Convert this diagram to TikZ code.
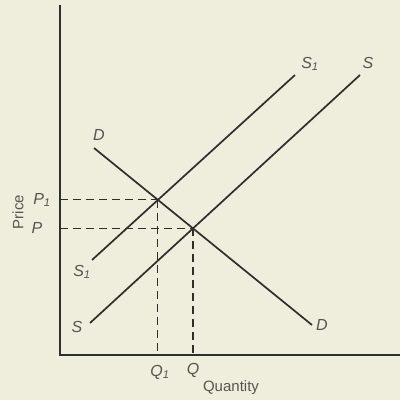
\documentclass[tikz,border=0pt]{standalone}
\usepackage{fontspec}
\setmainfont{Liberation Sans}
\usepackage{xcolor}
\usepackage{tikz}
\usetikzlibrary{calc}
\definecolor{paperc}{HTML}{EFEEDD}
\definecolor{inkc}{HTML}{2E2E2A}
\definecolor{txtc}{HTML}{55554F}
\tikzset{
  ax/.style={inkc,line width=1.1pt},
  crv/.style={inkc,line width=1.7pt},
  dsh/.style={inkc,line width=1.1pt,dash pattern=on 8pt off 5pt},
  lbl/.style={text=txtc,font=\fontsize{16}{16}\selectfont\itshape,inner sep=1pt},
  ttl/.style={text=txtc,font=\fontsize{15}{15}\selectfont,inner sep=1pt}
}
\newcommand{\sub}[1]{{\itshape #1}\textsubscript{1}}
\begin{document}
\begin{tikzpicture}[x=1pt,y=1pt]
\fill[paperc] (0,0) rectangle (400,400);
\useasboundingbox (0,0) rectangle (400,400);
% axes
\coordinate (O) at (60,45);
\coordinate (ytop) at (60,395);
\coordinate (xend) at (400,45);
\draw[ax] (ytop) -- (O) -- (xend);
% demand and the two supply curves
\coordinate (D1) at (94,252);  \coordinate (D2) at (312,75);
\coordinate (Sa1) at (92,140); \coordinate (Sa2) at (295,325);
\coordinate (Sb1) at (90,77);  \coordinate (Sb2) at (360,325);
\coordinate (E1) at (intersection of D1--D2 and Sa1--Sa2);
\coordinate (E) at (intersection of D1--D2 and Sb1--Sb2);
% dashed guides
\draw[dsh] (O|-E1) -- (E1);
\draw[dsh] (E1) -- (E1|-O);
\draw[dsh] (O|-E) -- (E);
\draw[dsh] (E) -- (E|-O);
\draw[crv] (D1) -- (D2);
\draw[crv] (Sa1) -- (Sa2);
\draw[crv] (Sb1) -- (Sb2);
% labels
\node[lbl] (dtop) at (99,265) {D};
\node[lbl] (dbot) at (322,75) {D};
\node[lbl] (s1lo) at (82,128) {\sub{S}};
\node[lbl] (slo) at (77,73) {S};
\node[lbl] (s1up) at (310,336) {\sub{S}};
\node[lbl] (sup) at (368,337) {S};
\node[lbl] (p1) at (42,200) {\sub{P}};
\node[lbl] (p) at (37,172) {P};
\node[lbl] (q1) at (160,28) {\sub{Q}};
\node[lbl] (q) at (193,30) {Q};
\node[ttl,rotate=90] (price) at (18,188) {Price};
\node[ttl] (qty) at (231,12) {Quantity};
\end{tikzpicture}
\end{document}
